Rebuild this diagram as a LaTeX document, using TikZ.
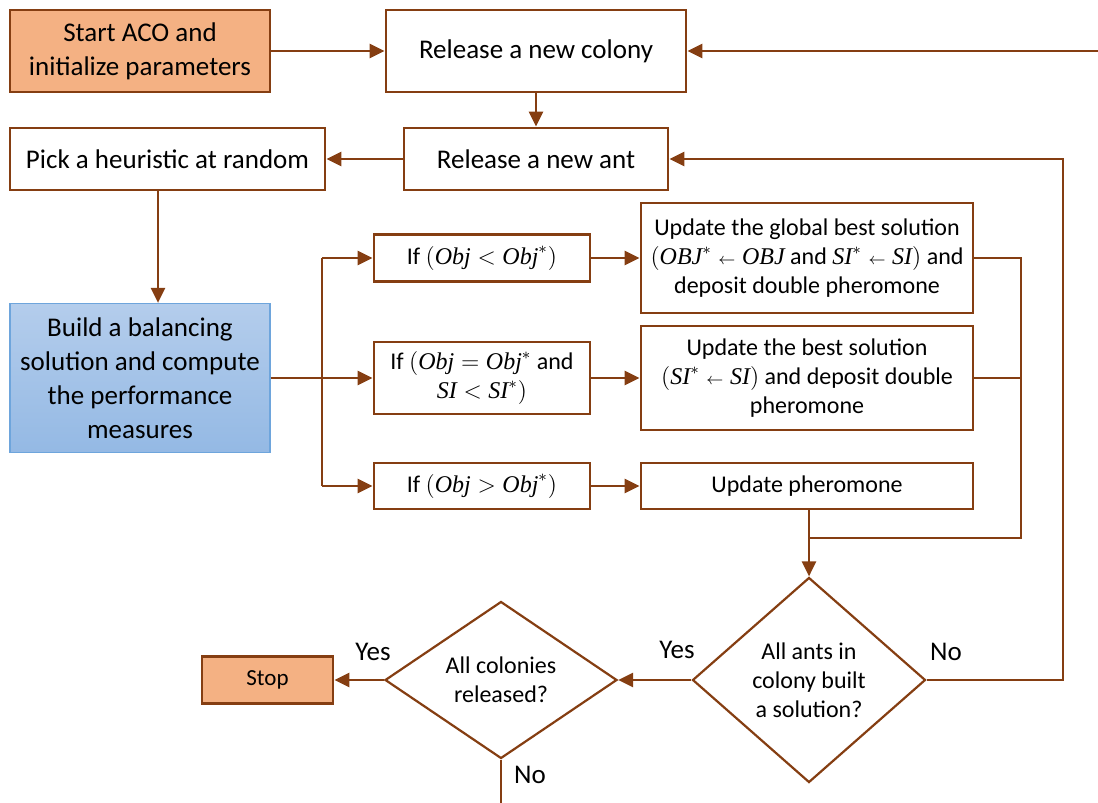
\documentclass[tikz,border=0pt]{standalone}
\usepackage{amsmath}
\usepackage{fontspec}
\setmainfont{Carlito}
\newfontfamily\varfont{Liberation Serif}
\newcommand{\mvar}[1]{\text{\varfont\itshape #1}}
\newcommand{\getsarrow}{\mathrel{\scriptstyle\leftarrow}}
\usepackage{tikz}
\usetikzlibrary{arrows.meta,shapes.geometric}
\definecolor{brownline}{RGB}{133,62,18}
\definecolor{orangefill}{RGB}{244,177,131}
\definecolor{bluetop}{RGB}{180,205,236}
\definecolor{bluebottom}{RGB}{148,185,228}
\definecolor{blueline}{RGB}{110,165,220}

\begin{document}
\begin{tikzpicture}[x=0.5pt, y=-0.5pt, >={Triangle[length=7.5pt,width=7pt]},
    box/.style={draw=brownline, line width=1.4pt, fill=white, align=center, inner sep=0pt,
        font=\fontsize{13.5}{17}\selectfont},
    smallbox/.style={box, font=\fontsize{12}{14.5}\selectfont},
    decision/.style={diamond, draw=brownline, line width=1.1pt, fill=white, align=center,
        inner sep=0pt, font=\fontsize{12}{14.5}\selectfont},
    link/.style={draw=brownline, line width=1.3pt},
    lbl/.style={font=\fontsize{13.5}{17}\selectfont}]
    \useasboundingbox (0,0) rectangle (1098,803);

    % top row
    \node[box, fill=orangefill, minimum width=130pt, minimum height=41pt] (start) at (140,51)
        {Start ACO and\\ initialize parameters};
    \node[box, minimum width=150pt, minimum height=41pt] (colony) at (536,51) {Release a new colony};
    \node[box, minimum width=132pt, minimum height=31pt] (ant) at (536,159) {Release a new ant};
    \node[box, minimum width=157.5pt, minimum height=31pt] (pick) at (167.5,159) {Pick a heuristic at random};
    \node[box, draw=blueline, line width=0.6pt, top color=bluetop, bottom color=bluebottom,
        minimum width=130pt, minimum height=74.5pt] (build) at (140,378)
        {Build a balancing\\ solution and compute\\ the performance\\ measures};

    % conditions
    \node[smallbox, minimum width=108pt, minimum height=23.5pt] (if1) at (482,258)
        {If $(\mvar{Obj} < \mvar{Obj}^{*})$};
    \node[smallbox, minimum width=108pt, minimum height=36pt] (if2) at (482,378)
        {If $(\mvar{Obj} = \mvar{Obj}^{*}$ and\\ $\mvar{SI} < \mvar{SI}^{*})$};
    \node[smallbox, minimum width=108pt, minimum height=23pt] (if3) at (482,486)
        {If $(\mvar{Obj} > \mvar{Obj}^{*})$};

    % updates
    \node[smallbox, minimum width=166pt, minimum height=55pt] (upd1) at (807,258)
        {Update the global best solution\\
         $(\mvar{OBJ}^{*} \getsarrow \mvar{OBJ}$ and $\mvar{SI}^{*} \getsarrow \mvar{SI})$ and\\
         deposit double pheromone};
    \node[smallbox, minimum width=166pt, minimum height=52pt] (upd2) at (807,378)
        {Update the best solution\\ $(\mvar{SI}^{*} \getsarrow \mvar{SI})$ and deposit double\\ pheromone};
    \node[smallbox, minimum width=166pt, minimum height=23pt] (upd3) at (807,486) {Update pheromone};

    % decisions
    \node[decision, aspect=1.14, minimum width=116.5pt, minimum height=102.5pt] (ants) at (809,680)
        {All ants in\\ colony built\\ a solution?};
    \node[decision, aspect=1.48, minimum width=116pt, minimum height=78.5pt] (cols) at (501,680)
        {All colonies\\ released?};
    \node[box, fill=orangefill, minimum width=65.5pt, minimum height=23.5pt,
        font=\fontsize{11.5}{14}\selectfont] (stop) at (267.5,680) {Stop};

    % helper points
    \coordinate (inR) at (1098,51);
    \coordinate (trunk) at (322,378);
    \coordinate (coll) at (1021,538);
    \coordinate (merge) at (809,538);
    \coordinate (loop) at (1063,159);
    \coordinate (exit) at (501,803);

    % connectors
    \draw[link,->] (start) -- (colony);
    \draw[link,->] (inR) -- (colony);
    \draw[link,->] (colony) -- (ant);
    \draw[link,->] (ant) -- (pick);
    \draw[link,->] ([xshift=-4.75pt]pick.south) -- ([xshift=-4.75pt]pick.south |- build.north);
    \draw[link] (build.east) -- (trunk);
    \draw[link] (if1.west -| trunk) -- (if3.west -| trunk);
    \draw[link,->] (if1.west -| trunk) -- (if1);
    \draw[link,->] (if2.west -| trunk) -- (if2);
    \draw[link,->] (if3.west -| trunk) -- (if3);
    \draw[link,->] (if1) -- (upd1);
    \draw[link,->] (if2) -- (upd2);
    \draw[link,->] (if3) -- (upd3);
    \draw[link] (upd1.east) -- (upd1.east -| coll) -- (coll) -- (merge) -- (upd3.south -| merge);
    \draw[link] (upd2.east) -- (upd2.east -| coll);
    \draw[link,->] (merge) -- (ants.north);
    \draw[link,->] (ants.east) -| (loop) -- (ant.east);
    \draw[link,->] (ants.west) -- (cols.east);
    \draw[link,->] (cols.west) -- (stop.east);
    \draw[link] (cols.south) -- (exit);

    % branch labels
    \node[lbl] (yes1) at (373,652) {Yes};
    \node[lbl] (yes2) at (677,650) {Yes};
    \node[lbl] (no1) at (946,652) {No};
    \node[lbl] (no2) at (530,775) {No};
\end{tikzpicture}
\end{document}
